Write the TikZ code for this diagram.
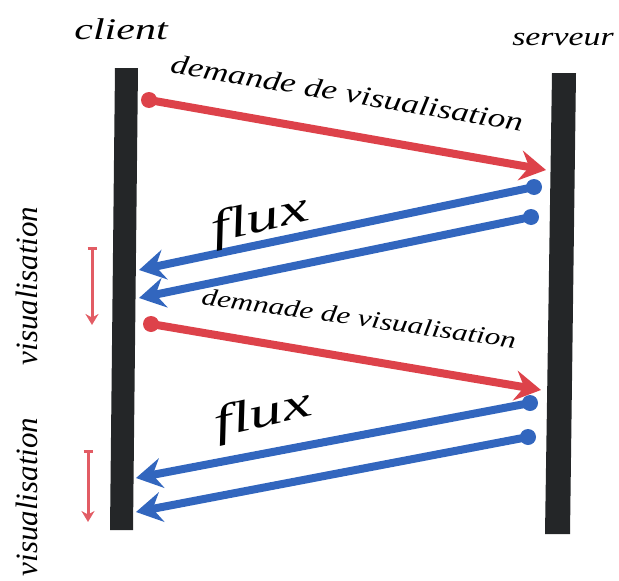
\documentclass[tikz,border=0pt]{standalone}
\usepackage{fontspec}
\usepackage{graphicx}
\setmainfont{Liberation Serif}
\usetikzlibrary{arrows.meta}
\definecolor{barcol}{RGB}{36,38,40}
\definecolor{reqred}{RGB}{221,66,74}
\definecolor{flowblue}{RGB}{50,102,190}
\definecolor{markred}{RGB}{226,92,100}
% wide italic lettering for the labels
\newcommand{\widelabel}[3]{\scalebox{#1}[1]{\itshape\fontsize{#2}{#2}\selectfont #3}}
\begin{document}
\begin{tikzpicture}[x=1pt,y=-1pt,
  lifeline/.style={fill=barcol},
  request/.style={draw=reqred, line width=8pt, -{Stealth[length=26pt,width=30pt,inset=9pt]}},
  reqdot/.style={fill=reqred},
  flow/.style={draw=flowblue, line width=8pt, -{Stealth[length=26pt,width=30pt,inset=9pt]}},
  flowdot/.style={fill=flowblue},
  span/.style={draw=markred, line width=3pt, {Bar[width=9pt,line width=2.5pt]}-{Stealth[length=11pt,width=13pt]}},
  lbl/.style={inner sep=0pt},
  phase/.style={font=\itshape\fontsize{31}{34}\selectfont, inner sep=0pt, rotate=90}
]
\useasboundingbox (0,0) rectangle (619,581);

% the two lifelines
\fill[lifeline] (115,68) -- (138,68) -- (133,530) -- (110,530) -- cycle;
\fill[lifeline] (552,73) -- (576,73) -- (570,534) -- (545,534) -- cycle;

\node[lbl] (client) at (121,29) {\widelabel{1.4}{30}{client}};
\node[lbl] (serveur) at (563,40) {\widelabel{1.3}{26}{serveur}};

% message end points
\coordinate (r1s) at (149,100);  \coordinate (r1e) at (546,170);
\coordinate (b1s) at (534,187);  \coordinate (b1e) at (139,270);
\coordinate (b2s) at (531,217);  \coordinate (b2e) at (139,298);
\coordinate (r2s) at (151,324);  \coordinate (r2e) at (541,390);
\coordinate (b3s) at (530,403);  \coordinate (b3e) at (136,478);
\coordinate (b4s) at (528,437);  \coordinate (b4e) at (136,512);

% first request and its answer
\draw[request] (r1s) -- (r1e);
\fill[reqdot] (r1s) circle (8);
\draw[flow] (b1s) -- (b1e);
\fill[flowdot] (b1s) circle (8);
\draw[flow] (b2s) -- (b2e);
\fill[flowdot] (b2s) circle (8);

% second request and its answer
\draw[request] (r2s) -- (r2e);
\fill[reqdot] (r2s) circle (8);
\draw[flow] (b3s) -- (b3e);
\fill[flowdot] (b3s) circle (8);
\draw[flow] (b4s) -- (b4e);
\fill[flowdot] (b4s) circle (8);

% message labels
\node[lbl, rotate=-9.5] (m1) at (347,93) {\widelabel{1.3}{27}{demande de visualisation}};
\node[lbl, rotate=13] (f1) at (260,221) {\widelabel{1.5}{44}{flux}};
\node[lbl, rotate=-8] (m2) at (359,318) {\widelabel{1.3}{24}{demnade de visualisation}};
\node[lbl, rotate=13] (f2) at (263,416) {\widelabel{1.5}{44}{flux}};

% visualisation periods on the client side
\coordinate (v1a) at (92,247); \coordinate (v1b) at (92,325);
\coordinate (v2a) at (88,450); \coordinate (v2b) at (88,522);
\draw[span] (v1a) -- (v1b);
\draw[span] (v2a) -- (v2b);
\node[phase] (p1) at (27,286) {visualisation};
\node[phase] (p2) at (27,497) {visualisation};
\end{tikzpicture}
\end{document}
